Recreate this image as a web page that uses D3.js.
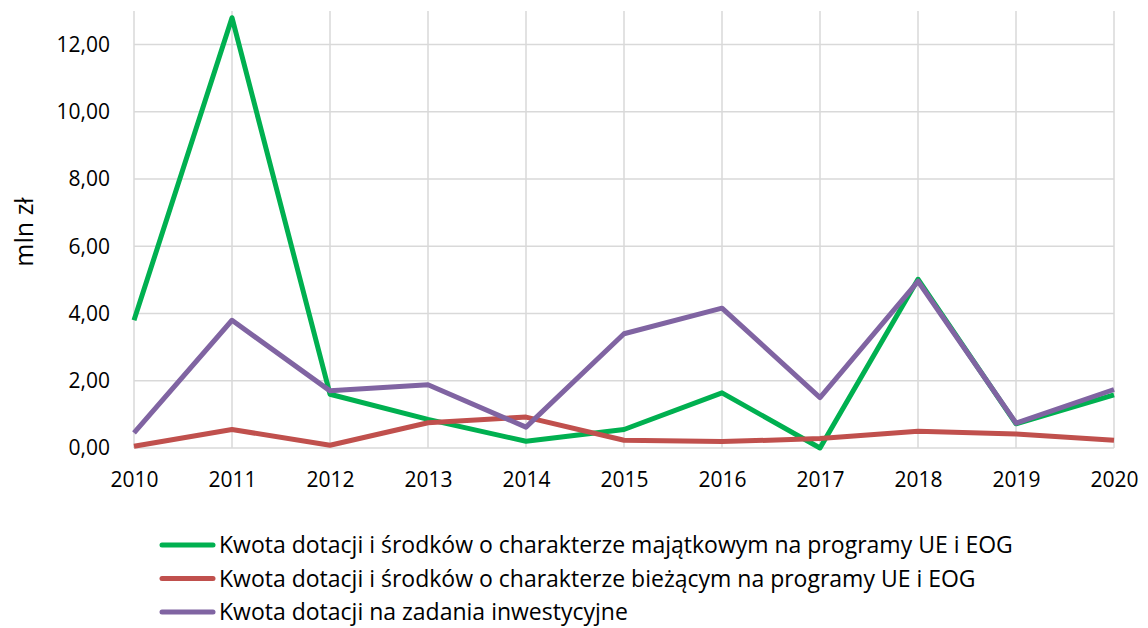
<!DOCTYPE html>
<html>
<head>
  <meta charset="utf-8">
  <title>Dotacje</title>
  <script src="https://cdnjs.cloudflare.com/ajax/libs/d3/7.8.5/d3.min.js"></script>
  <style>
    body { margin: 0; background: #fff; }
    svg { font-family: "Open Sans", "Noto Sans", sans-serif; }
    .grid line { stroke: #d9d9d9; stroke-width: 1.5; }
  </style>
</head>
<body>
<svg id="chart" width="1148" height="628"></svg>
<script>
  // data
  const years = [2010, 2011, 2012, 2013, 2014, 2015, 2016, 2017, 2018, 2019, 2020];
  const majatkowe = [3.80, 12.80, 1.60, 0.85, 0.20, 0.55, 1.64, 0.00, 5.02, 0.72, 1.58];
  const biezace = [0.05, 0.55, 0.08, 0.75, 0.92, 0.23, 0.19, 0.28, 0.50, 0.42, 0.23];
  const inwestycyjne = [0.45, 3.80, 1.70, 1.88, 0.62, 3.40, 4.16, 1.50, 4.96, 0.74, 1.74];
  const yTicks = [0, 2, 4, 6, 8, 10, 12];
  const seriesNames = [
    'Kwota dotacji i środków o charakterze majątkowym na programy UE i EOG',
    'Kwota dotacji i środków o charakterze bieżącym na programy UE i EOG',
    'Kwota dotacji na zadania inwestycyjne'
  ];
  const colors = ['#00b050', '#c0504d', '#8064a2'];
  const allSeries = [majatkowe, biezace, inwestycyjne];

  const svg = d3.select('#chart');
  const plotLeft = 134, plotRight = 1114, plotTop = 11, plotBottom = 448;

  const x = d3.scaleLinear().domain([2010, 2020]).range([plotLeft, plotRight]);
  const y = d3.scaleLinear().domain([0, 13]).range([plotBottom, plotTop]);

  // grid
  const grid = svg.append('g').attr('class', 'grid');
  grid.selectAll('.h').data(yTicks).enter().append('line')
    .attr('x1', plotLeft).attr('x2', plotRight)
    .attr('y1', d => y(d)).attr('y2', d => y(d));
  grid.selectAll('.v').data(years).enter().append('line')
    .attr('x1', d => x(d)).attr('x2', d => x(d))
    .attr('y1', plotTop).attr('y2', plotBottom);

  // axes labels
  const yAxis = d3.axisLeft(y).tickValues(yTicks)
    .tickFormat(d => d3.format('.2f')(d).replace('.', ','))
    .tickSize(0).tickPadding(24);
  svg.append('g').attr('transform', `translate(${plotLeft},0)`).call(yAxis)
    .call(g => g.select('.domain').remove())
    .selectAll('text').attr('font-size', 21).attr('fill', '#000')
    .attr('font-family', '"Open Sans", sans-serif');

  const xAxis = d3.axisBottom(x).tickValues(years).tickFormat(d3.format('d'))
    .tickSize(0).tickPadding(24);
  svg.append('g').attr('transform', `translate(0,${plotBottom})`).call(xAxis)
    .call(g => g.select('.domain').remove())
    .selectAll('text').attr('font-size', 21).attr('fill', '#000')
    .attr('font-family', '"Open Sans", sans-serif');

  svg.append('text')
    .attr('transform', 'translate(33,232) rotate(-90)')
    .attr('text-anchor', 'middle')
    .attr('font-size', 25)
    .text('mln zł');

  // lines
  const line = d3.line().x((d, i) => x(years[i])).y(d => y(d));
  svg.selectAll('.series').data(allSeries).enter().append('path')
    .attr('fill', 'none')
    .attr('stroke', (d, i) => colors[i])
    .attr('stroke-width', 5)
    .attr('stroke-linejoin', 'round')
    .attr('d', line);

  // legend
  const legend = svg.append('g');
  seriesNames.forEach((name, i) => {
    const ly = 545 + i * 33.5;
    legend.append('line')
      .attr('x1', 162).attr('x2', 213).attr('y1', ly).attr('y2', ly)
      .attr('stroke', colors[i]).attr('stroke-width', 5).attr('stroke-linecap', 'round');
    legend.append('text')
      .attr('x', 219).attr('y', ly + 8)
      .attr('font-size', 23)
      .text(name);
  });
</script>
</body>
</html>
